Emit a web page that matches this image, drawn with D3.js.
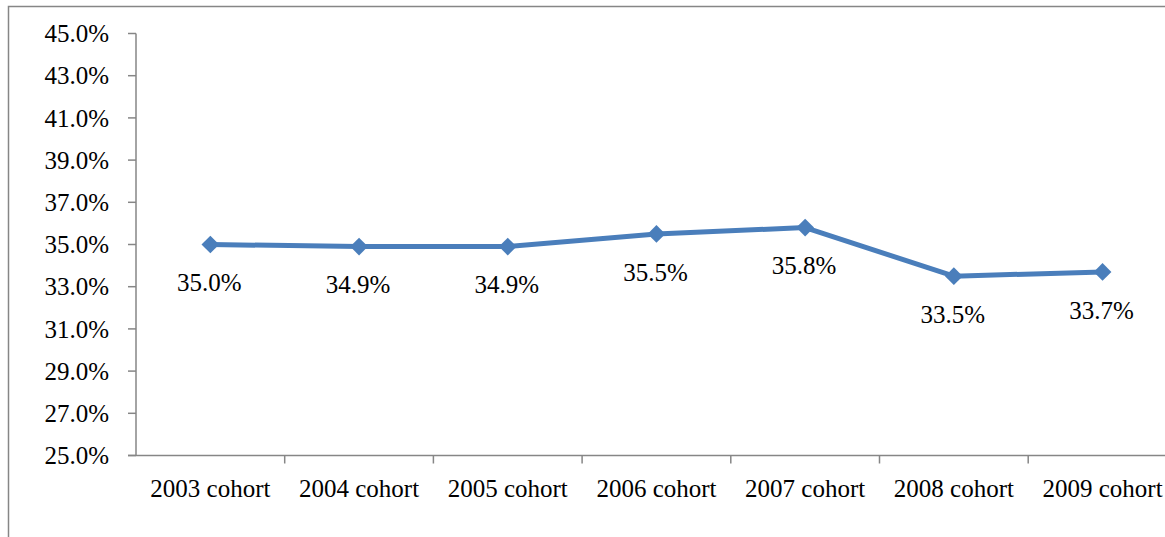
<!DOCTYPE html>
<meta charset="utf-8">
<style>
	body { margin: 0; background: #fff; }
	text { font-family: "Liberation Serif", "Times New Roman", serif; fill: #000; }
</style>
<div id="chart"></div>
<script src="https://cdn.jsdelivr.net/npm/d3@7"></script>
<script>
	// data
	const cohorts = ['2003 cohort', '2004 cohort', '2005 cohort', '2006 cohort', '2007 cohort', '2008 cohort', '2009 cohort']
	const rates = [35.0, 34.9, 34.9, 35.5, 35.8, 33.5, 33.7]
	const yTicks = [25, 27, 29, 31, 33, 35, 37, 39, 41, 43, 45]

	const width = 1165, height = 537
	const axisColor = '#868686'
	const lineColor = '#4a7ebb'

	const svg = d3.select('#chart').append('svg')
		.attr('width', width)
		.attr('height', height)

	// outer frame (only left and top edges are inside the picture)
	svg.append('rect')
		.attr('x', 8.5).attr('y', 6.5)
		.attr('width', 1300).attr('height', 700)
		.attr('fill', 'none')
		.attr('stroke', axisColor)
		.attr('stroke-width', 1.5)

	const left = 136, bandW = 148.7
	const x = d3.scaleBand()
		.domain(cohorts)
		.range([left, left + bandW * cohorts.length])
		.padding(0)

	const y = d3.scaleLinear()
		.domain([25, 45])
		.range([455.5, 33.5])

	// y axis
	const gy = svg.append('g')
	gy.append('line')
		.attr('x1', left).attr('x2', left)
		.attr('y1', y(45)).attr('y2', y(25))
		.attr('stroke', axisColor).attr('stroke-width', 1.5)
	gy.selectAll('line.tick').data(yTicks).enter()
		.append('line')
		.attr('class', 'tick')
		.attr('x1', left - 8).attr('x2', left)
		.attr('y1', d => y(d)).attr('y2', d => y(d))
		.attr('stroke', axisColor).attr('stroke-width', 1.5)
	gy.selectAll('text').data(yTicks).enter()
		.append('text')
		.attr('x', 109)
		.attr('y', d => y(d))
		.attr('dy', '0.35em')
		.attr('text-anchor', 'end')
		.style('font-size', '25px')
		.text(d => d.toFixed(1) + '%')

	// x axis
	const gx = svg.append('g')
	gx.append('line')
		.attr('x1', left - 8).attr('x2', width)
		.attr('y1', y(25)).attr('y2', y(25))
		.attr('stroke', axisColor).attr('stroke-width', 1.5)
	gx.selectAll('line.tick').data(cohorts.slice(1)).enter()
		.append('line')
		.attr('class', 'tick')
		.attr('x1', d => x(d)).attr('x2', d => x(d))
		.attr('y1', y(25)).attr('y2', y(25) + 8)
		.attr('stroke', axisColor).attr('stroke-width', 1.5)
	gx.selectAll('text').data(cohorts).enter()
		.append('text')
		.attr('x', d => x(d) + x.bandwidth() / 2)
		.attr('y', 497)
		.attr('text-anchor', 'middle')
		.style('font-size', '25px')
		.text(d => d)

	const pts = cohorts.map((c, i) => ({ c: c, v: rates[i] }))
	const cx = d => x(d.c) + x.bandwidth() / 2

	svg.append('path')
		.datum(pts)
		.attr('d', d3.line().x(cx).y(d => y(d.v)))
		.attr('fill', 'none')
		.attr('stroke', lineColor)
		.attr('stroke-width', 5)
		.attr('stroke-linejoin', 'round')

	svg.selectAll('path.marker').data(pts).enter()
		.append('path')
		.attr('class', 'marker')
		.attr('d', d3.symbol().type(d3.symbolDiamond2).size(200))
		.attr('transform', d => 'translate(' + cx(d) + ',' + y(d.v) + ')')
		.attr('fill', lineColor)

	svg.selectAll('text.lbl').data(pts).enter()
		.append('text')
		.attr('class', 'lbl')
		.attr('x', d => cx(d) - 1)
		.attr('y', d => y(d.v) + 38)
		.attr('dy', '0.35em')
		.attr('text-anchor', 'middle')
		.style('font-size', '25px')
		.text(d => d.v.toFixed(1) + '%')
</script>
